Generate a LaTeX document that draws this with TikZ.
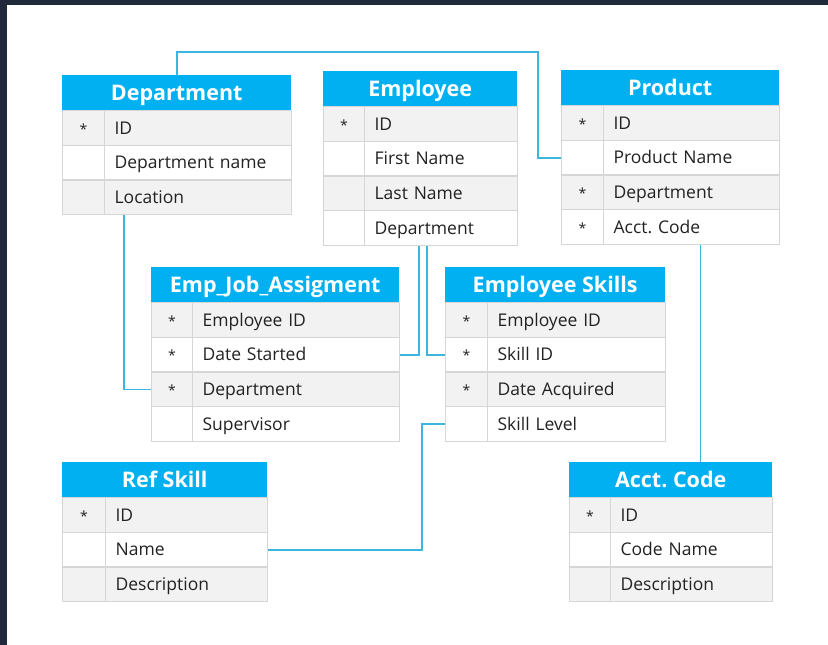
\documentclass[tikz,border=0pt]{standalone}
\usepackage{fontspec}
\setmainfont{Open Sans}
\usetikzlibrary{calc}
\definecolor{darkbg}{HTML}{202A3A}
\definecolor{hdrblue}{RGB}{0,176,240}
\definecolor{rg}{HTML}{F2F2F2}
\definecolor{rw}{HTML}{FFFFFF}
\definecolor{bordergrey}{HTML}{D6D6D6}
\definecolor{connblue}{RGB}{60,182,222}
\definecolor{txt}{HTML}{222222}
\tikzset{
  hdr/.style={fill=hdrblue, draw=none, text=white, inner sep=0pt,
    minimum height=35pt, text height=20pt, text depth=5pt,
    font=\fontsize{21.5}{24}\selectfont\bfseries},
  cell/.style={draw=bordergrey, line width=1.2pt, inner sep=0pt, inner xsep=10pt,
    minimum height=34.7pt, text height=16pt, text depth=3.5pt, text=txt,
    font=\fontsize{17.5}{20}\selectfont},
  keycell/.style={cell, font=\fontsize{14}{16}\selectfont},
  conn/.style={draw=connblue, line width=1.7pt},
}
\newcommand\ertable[7]{%
  \pgfmathsetmacro\tabw{#4-#2}%
  \pgfmathsetmacro\keyw{#5-#2}%
  \pgfmathsetmacro\txtw{#4-#5-20}%
  \node[hdr, anchor=north west, minimum width=\tabw pt] (#1-h) at (#2,#3) {#6};
  \foreach [count=\i] \rfill/\rkey/\rtxt in {#7} {%
    \pgfmathsetmacro\yy{#3+35+34.7*(\i-1)}%
    \node[keycell, fill=\rfill, anchor=north west, minimum width=\keyw pt] (#1-k\i) at (#2,\yy) {\rkey};
    \node[cell, fill=\rfill, anchor=north west, text width=\txtw pt, align=left] (#1-\i) at (#5,\yy) {\rtxt};
  }%
}
\begin{document}
\begin{tikzpicture}[x=1pt,y=-1pt]
\useasboundingbox (0,0) rectangle (828,645);
\fill[darkbg] (0,0) rectangle (828,645);
\fill[white] (7,5) rectangle (828,645);

\ertable{dept}{62}{75}{291}{104}{Department}{rg/*/ID, rw//Department name, rg//Location}
\ertable{emp}{323}{71}{517}{364}{Employee}{rg/*/ID, rw//First Name, rg//Last Name, rw//Department}
\ertable{prod}{561}{70}{779}{603}{Product}{rg/*/ID, rw//Product Name, rg/*/Department, rw/*/Acct.\ Code}
\ertable{job}{151}{267}{399}{192}{Emp\_Job\_Assigment}{rg/*/Employee ID, rw/*/Date Started, rg/*/Department, rw//Supervisor}
\ertable{skl}{445}{267}{665}{487}{Employee Skills}{rg/*/Employee ID, rw/*/Skill ID, rg/*/Date Acquired, rw//Skill Level}
\ertable{ref}{62}{462}{267}{105}{Ref Skill}{rg/*/ID, rw//Name, rg//Description}
\ertable{acct}{569}{462}{772}{610}{Acct.\ Code}{rg/*/ID, rw//Code Name, rg//Description}

\coordinate (bend1) at (538,52);
\draw[conn] (dept-h.north) |- (bend1) |- (prod-k2.west);
\draw[conn] ([xshift=20pt]dept-3.south west) |- (job-k3.west);
\draw[conn] ([xshift=-22pt]emp-4.south) |- (job-2.east);
\draw[conn] ([xshift=-14pt]emp-4.south) |- (skl-k2.west);
\draw[conn] (skl-k4.west) -- ++(-23,0) |- (ref-2.east);
\draw[conn] ([xshift=9pt]prod-4.south) -- ([xshift=9pt]prod-4.south |- acct-h.north);
\end{tikzpicture}
\end{document}
